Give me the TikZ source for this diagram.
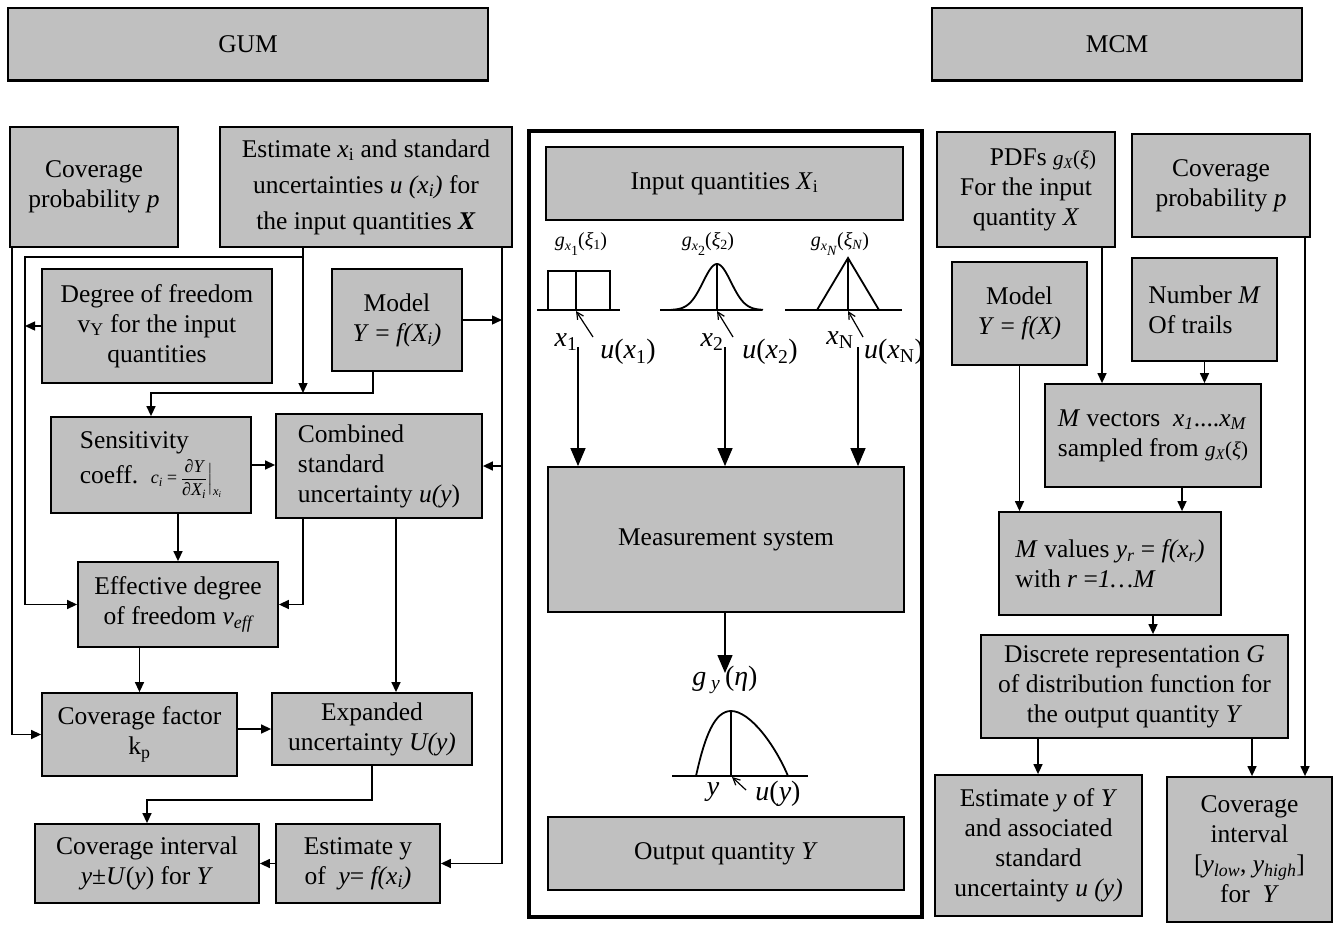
\documentclass[tikz,border=0pt]{standalone}
\usepackage{fontspec}
\setmainfont{Liberation Serif}
\usepackage{amsmath}
\usetikzlibrary{arrows.meta}
\definecolor{boxgray}{RGB}{192,192,192}
\newcommand\fsbase{\fontsize{25.5}{30}\selectfont}
\newcommand\fssmall{\fontsize{21}{23}\selectfont}
\newcommand\fslarge{\fontsize{28}{30}\selectfont}
% density label g_{x_k}(xi_k): #1 index of x, #2 index of xi
\newcommand\gpdf[2]{{\fontsize{20}{22}\selectfont\textit{g}\raisebox{-4pt}{\fontsize{14}{14}\selectfont\textit{x}\raisebox{-5pt}{#1}}(\textit{ξ}\raisebox{-3pt}{\fontsize{14}{14}\selectfont #2})}}
% box: name, x1, y1, x2, y2, extra options, text
\newcommand\mybox[7]{%
  \node[box,#6,minimum width={(#4-#2)*1pt},minimum height={(#5-#3)*1pt}]
    (#1) at ({(#2+#4)/2},{(#3+#5)/2}) {#7};}
\tikzset{
  box/.style={draw, line width=1.8pt, fill=boxgray, inner sep=0pt,
    font=\fsbase, align=center},
  arr/.style={line width=1.4pt, -{Triangle[length=10pt,width=9pt]}},
  bigarr/.style={line width=1.4pt, -{Triangle[length=18pt,width=15pt]}},
  uarr/.style={line width=1.2pt, -{Straight Barb[length=7pt,width=7pt]}},
  pdfline/.style={line width=1.8pt},
  axis/.style={line width=1.1pt},
  lbl/.style={inner sep=0pt},
}
\begin{document}
\begin{tikzpicture}[x=1pt,y=-1pt]
\useasboundingbox (0,0) rectangle (1335,925);

% ---------- headers ----------
\mybox{gum}{8}{8}{488}{80}{}{GUM}
\mybox{mcm}{932}{8}{1302}{80}{}{MCM}
\draw[line width=3pt] (gum.south west) -- (gum.south east);
\draw[line width=3pt] (mcm.south west) -- (mcm.south east);

% ---------- GUM ----------
\mybox{covp}{10}{127}{178}{247}{}{Coverage\\probability \textit{p}}
\mybox{est}{220}{127}{512}{247}{font={\fontsize{25.5}{36}\selectfont}}
  {Estimate \textit{x}\textsubscript{i} and standard\\uncertainties \textit{u (x\textsubscript{i})} for\\the input quantities \textbf{\textit{X}}}
\mybox{dof}{42}{269}{272}{383}{}{Degree of freedom\\v\textsubscript{Y} for the input\\quantities}
\mybox{model}{332}{269}{462}{371}{}{Model\\\textit{Y} = \textit{f(X\textsubscript{i})}}
\mybox{sens}{51}{417}{251}{513}{align=left}
  {Sensitivity\\[4pt]coeff.\ \ {\fontsize{18}{20}\selectfont\itshape c\textsubscript{i}\,=\,%
   $\dfrac{\text{\itshape ∂Y}}{\text{\itshape ∂X\textsubscript{i}}}\Big|_{\text{\itshape x\textsubscript{i}}}$}}
\mybox{comb}{276}{414}{482}{518}{align=left}{Combined\\standard\\uncertainty \textit{u(y})}
\mybox{eff}{78}{562}{278}{647}{}{Effective degree\\of freedom \textit{v\textsubscript{eff}}}
\mybox{cf}{42}{693}{237}{776}{}{Coverage factor\\k\textsubscript{p}}
\mybox{exp}{272}{693}{472}{765}{}{Expanded\\uncertainty \textit{U(y)}}
\mybox{ci}{35}{824}{259}{903}{}{Coverage interval\\\textit{y}±\textit{U}(\textit{y}) for \textit{Y}}
\mybox{esty}{276}{824}{440}{903}{}{Estimate y\\of \ \textit{y}= \textit{f(x\textsubscript{i})}}

\coordinate (lx) at (25,0);
\coordinate (rx) at (502,0);
\coordinate (mx) at (373,0);
\coordinate (cx) at (396,0);
\coordinate (j1) at (303,393);
\coordinate (j2) at (303,257);
\coordinate (j3) at (0,800);

\draw[arr] ([xshift=3pt]covp.south west) |- (cf.west);
\draw[arr] (est.south -| j1) -- (j1);
\draw[arr] (j2) -| (lx |- eff.west) -- (eff.west);
\draw[arr] (dof.west) -- (dof.west -| lx);
\draw[arr] (est.south -| rx) |- (esty.east);
\draw[arr] (model.east) -- (model.east -| rx);
\draw[arr] (comb.east -| rx) -- (comb.east);
\draw[arr] (model.south -| mx) |- (sens.north |- j1) -- (sens.north);
\draw[arr] (sens.east) -- (sens.east -| comb.west);
\draw[arr] (sens.south -| eff.north) -- (eff.north);
\draw[arr] (comb.south -| j1) |- (eff.east);
\draw[arr] (comb.south -| cx) -- (exp.north -| cx);
\draw[arr] (eff.south -| cf.north) -- (cf.north);
\draw[arr] (cf.east |- exp.west) -- (exp.west);
\draw[arr] (exp.south) |- (ci.north |- j3) -- (ci.north);
\draw[arr] (esty.west) -- (ci.east);

% ---------- measurement system ----------
\node[draw, line width=3.5pt, minimum width=393pt, minimum height=786pt, inner sep=0pt]
  (sysframe) at (725.5,524) {};
\mybox{inq}{546}{147}{903}{220}{}{Input quantities \textit{X}\textsubscript{i}}
\mybox{meas}{548}{467}{904}{612}{}{Measurement system}
\mybox{outq}{548}{817}{904}{890}{}{Output quantity \textit{Y}}

% rectangular PDF
\draw[axis] (537,310) -- (620,310);
\draw[pdfline] (548,310) -- (548,271) -- (610,271) -- (610,310);
\draw[axis] (576,271) -- (576,310);
% gaussian PDF
\draw[axis] (660,310) -- (762,310);
\draw[pdfline] plot[domain=671:763, samples=60, smooth] ({\x},{310-46*exp(-((\x-717)/14)^2/2)});
\draw[axis] (717,264) -- (717,310);
% triangular PDF
\draw[axis] (785,310) -- (902,310);
\draw[pdfline] (817,310) -- (848,258) -- (879,310);
\draw[axis] (848,258) -- (848,310);

\node[lbl] (g1) at (581,244) {\gpdf{1}{1}};
\node[lbl] (g2) at (708,244) {\gpdf{2}{2}};
\node[lbl] (gN) at (840,244) {\gpdf{\textit{N}}{\textit{N}}};

\node[lbl, font=\fslarge] (x1) at (566,342) {\textit{x}\textsubscript{1}};
\node[lbl, font=\fslarge] (u1) at (628,352) {\textit{u}(\textit{x}\textsubscript{1})};
\node[lbl, font=\fslarge] (x2) at (712,342) {\textit{x}\textsubscript{2}};
\node[lbl, font=\fslarge] (u2) at (770,352) {\textit{u}(\textit{x}\textsubscript{2})};
\node[lbl, font=\fslarge] (xN) at (840,340) {\textit{x}\textsubscript{N}};
\node[lbl, font=\fslarge] (uN) at (894,352) {\textit{u}(\textit{x}\textsubscript{N})};

\coordinate (ua1) at (593,337); \coordinate (ut1) at (576,311);
\coordinate (ua2) at (733,337); \coordinate (ut2) at (717,311);
\coordinate (ua3) at (863,337); \coordinate (ut3) at (848,311);
\draw[uarr] (ua1) -- (ut1);
\draw[uarr] (ua2) -- (ut2);
\draw[uarr] (ua3) -- (ut3);

\coordinate (s1) at (578,347);
\coordinate (s2) at (725,347);
\coordinate (s3) at (858,347);
\draw[bigarr] (s1) -- (meas.north -| s1);
\draw[bigarr] (s2) -- (meas.north -| s2);
\draw[bigarr] (s3) -- (meas.north -| s3);

\coordinate (gy) at (725,673);
\draw[bigarr] (meas.south -| gy) -- (gy);
\node[lbl, font=\fslarge] (gylab) at (725,680) {\textit{g}\,\textsubscript{\textit{y}}\,(\textit{η})};

% output PDF
\draw[axis] (672,776) -- (808,776);
\draw[pdfline] (696,776) .. controls (705,735) and (715,711) .. (731,711)
  .. controls (750,711) and (775,745) .. (788,776);
\draw[axis] (731,711) -- (731,776);
\node[lbl, font=\fslarge] (ylab) at (713,792) {\textit{y}};
\node[lbl, font=\fslarge] (uylab) at (778,794) {\textit{u}(\textit{y})};
\coordinate (uay) at (746,790); \coordinate (uty) at (732,777);
\draw[uarr] (uay) -- (uty);

% ---------- MCM ----------
\mybox{pdf}{937}{132}{1115}{247}{}{\hspace*{34pt}PDFs {\fssmall\textit{g\textsubscript{X}}(\textit{ξ})}\\For the input\\quantity \textit{X}}
\mybox{covpm}{1132}{134}{1310}{237}{}{Coverage\\probability \textit{p}}
\mybox{modelm}{952}{262}{1087}{365}{}{Model\\\textit{Y} = \textit{f(X)}}
\mybox{num}{1132}{258}{1277}{361}{align=left}{Number \textit{M}\\Of trails}
\mybox{mvec}{1045}{384}{1261}{487}{align=left}
  {\textit{M} vectors\ \ \textit{x\textsubscript{1}}....\textit{x\textsubscript{M}}\\sampled from {\fssmall\textit{g\textsubscript{X}}(\textit{ξ})}}
\mybox{mval}{999}{512}{1221}{615}{align=left}
  {\textit{M} values \textit{y\textsubscript{r}} = \textit{f(x\textsubscript{r})}\\with \textit{r} =\textit{1…M}}
\mybox{disc}{981}{635}{1288}{738}{}{Discrete representation \textit{G}\\of distribution function for\\the output quantity \textit{Y}}
\mybox{estym}{935}{775}{1142}{916}{}{Estimate \textit{y} of \textit{Y}\\and associated\\standard\\uncertainty \textit{u (y)}}
\mybox{cim}{1167}{777}{1332}{922}{}{Coverage\\interval\\{}[\textit{y\textsubscript{low}}, \textit{y\textsubscript{high}}]\\for \ \textit{Y}}

\coordinate (p1) at (1102,0);
\coordinate (p2) at (1305,0);
\coordinate (p3) at (1182,0);
\coordinate (p4) at (1153,0);
\coordinate (p5) at (1038,0);
\coordinate (p6) at (1252,0);
\draw[arr] (pdf.south -| p1) -- (mvec.north -| p1);
\draw[arr] (num.south) -- (num.south |- mvec.north);
\draw[arr] (covpm.south -| p2) -- (cim.north -| p2);
\draw[arr] (modelm.south) -- (modelm.south |- mval.north);
\draw[arr] (mvec.south -| p3) -- (mval.north -| p3);
\draw[arr] (mval.south -| p4) -- (disc.north -| p4);
\draw[arr] (disc.south -| p5) -- (estym.north -| p5);
\draw[arr] (disc.south -| p6) -- (cim.north -| p6);
\end{tikzpicture}
\end{document}
